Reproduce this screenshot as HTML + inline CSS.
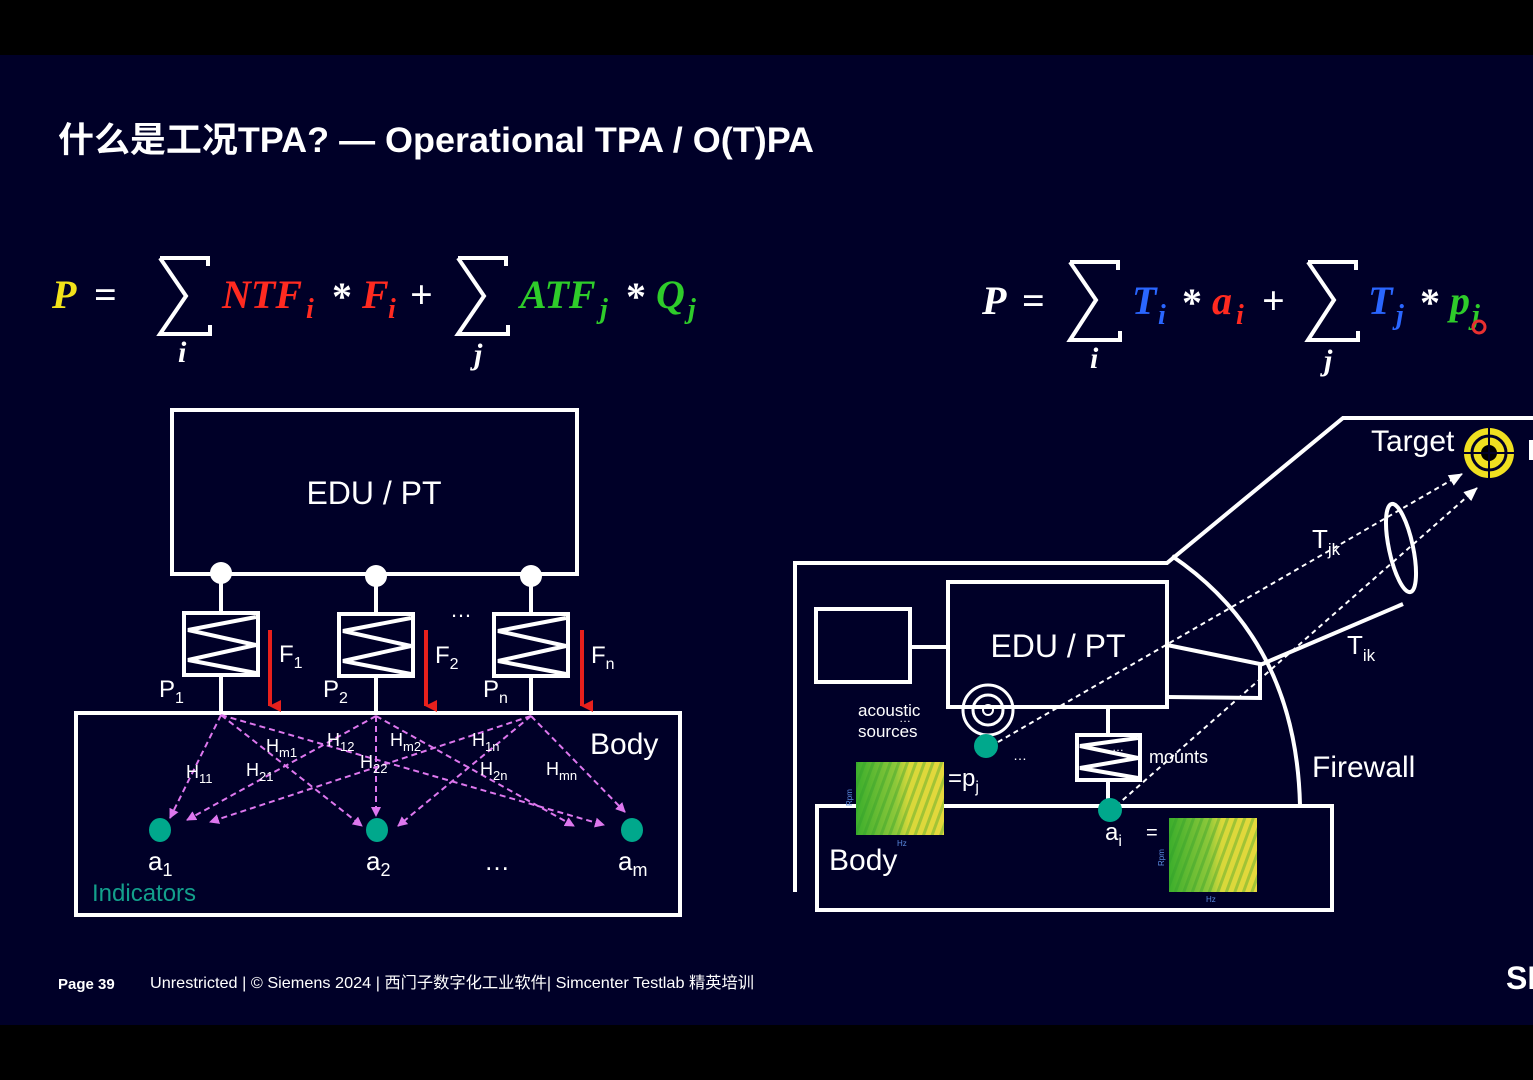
<!DOCTYPE html>
<html><head><meta charset="utf-8"><style>
html,body{margin:0;padding:0;background:#000;}
svg{display:block}
text{font-family:"Liberation Sans","Noto Sans CJK SC",sans-serif;fill:#fff}
g.m text{font-family:"Liberation Serif","DejaVu Serif",serif;font-weight:bold;font-style:italic}
</style></head><body>
<svg width="1533" height="1080" viewBox="0 0 1533 1080" xmlns="http://www.w3.org/2000/svg">
<defs>
<linearGradient id="sp" x1="0" y1="0" x2="1" y2="0">
<stop offset="0" stop-color="#3cae2c"/><stop offset="0.45" stop-color="#8cc83a"/><stop offset="0.6" stop-color="#d8d83a"/><stop offset="1" stop-color="#e6d83c"/></linearGradient>
<pattern id="st" width="8" height="8" patternUnits="userSpaceOnUse" patternTransform="rotate(20)"><rect width="3" height="8" fill="#2a9a2a" opacity="0.35"/></pattern>
<marker id="mg" markerWidth="10" markerHeight="10" refX="9" refY="5" orient="auto" markerUnits="userSpaceOnUse"><path d="M0,0 L10,5 L0,10 z" fill="#dd77ee"/></marker>
<marker id="wh" markerWidth="14" markerHeight="14" refX="13" refY="7" orient="auto" markerUnits="userSpaceOnUse"><path d="M0,1 L14,7 L0,13 z" fill="#fff"/></marker>
<marker id="rd" markerWidth="12" markerHeight="12" refX="6" refY="11" orient="auto" markerUnits="userSpaceOnUse"><path d="M0,0 L12,0 L6,12 z" fill="#e8201c"/></marker>
</defs>
<rect width="1533" height="1080" fill="#000"/>
<rect y="55" width="1533" height="970" fill="#000028"/>

<text x="58" y="152" font-size="35" font-weight="bold" textLength="756" lengthAdjust="spacingAndGlyphs">什么是工况TPA? — Operational TPA / O(T)PA</text>

<!-- left formula -->
<g class="m" font-size="40">
<text x="52" y="308" style="fill:#f2e21a">P</text>
<text x="94" y="308" style="fill:#fff;font-style:normal">=</text>
<text x="178" y="362" font-size="30" style="fill:#fff">i</text>
<text x="222" y="308" style="fill:#ff2a20">NTF</text><text x="306" y="318" font-size="28" style="fill:#ff2a20">i</text>
<text x="332" y="310" style="fill:#fff;font-style:normal">*</text>
<text x="362" y="308" style="fill:#ff2a20">F</text><text x="388" y="318" font-size="28" style="fill:#ff2a20">i</text>
<text x="410" y="308" style="fill:#fff;font-style:normal">+</text>
<text x="474" y="364" font-size="30" style="fill:#fff">j</text>
<text x="520" y="308" style="fill:#2ecc2a">ATF</text><text x="600" y="318" font-size="28" style="fill:#2ecc2a">j</text>
<text x="626" y="310" style="fill:#fff;font-style:normal">*</text>
<text x="656" y="308" style="fill:#2ecc2a">Q</text><text x="688" y="318" font-size="28" style="fill:#2ecc2a">j</text>
</g>
<path d="M160,258 L208,258 L208,266 M160,258 L186,296 L160,334 L210,334 L210,325" stroke="#fff" stroke-width="4" fill="none"/>
<path d="M458,258 L506,258 L506,266 M458,258 L484,296 L458,334 L508,334 L508,325" stroke="#fff" stroke-width="4" fill="none"/>

<!-- right formula -->
<g class="m" font-size="40">
<text x="982" y="314" style="fill:#fff">P</text>
<text x="1022" y="314" style="fill:#fff;font-style:normal">=</text>
<text x="1090" y="368" font-size="30" style="fill:#fff">i</text>
<text x="1132" y="314" style="fill:#2a66ff">T</text><text x="1158" y="324" font-size="28" style="fill:#2a66ff">i</text>
<text x="1182" y="316" style="fill:#fff;font-style:normal">*</text>
<text x="1212" y="314" style="fill:#ff2a20">a</text><text x="1236" y="324" font-size="28" style="fill:#ff2a20">i</text>
<text x="1262" y="314" style="fill:#fff;font-style:normal">+</text>
<text x="1324" y="370" font-size="30" style="fill:#fff">j</text>
<text x="1368" y="314" style="fill:#2a66ff">T</text><text x="1396" y="324" font-size="28" style="fill:#2a66ff">j</text>
<text x="1420" y="316" style="fill:#fff;font-style:normal">*</text>
<text x="1450" y="314" style="fill:#2ecc2a">p</text><text x="1472" y="324" font-size="28" style="fill:#2ecc2a">j</text>
</g>
<path d="M1070,262 L1118,262 L1118,270 M1070,262 L1096,300 L1070,340 L1120,340 L1120,331" stroke="#fff" stroke-width="4" fill="none"/>
<path d="M1308,262 L1356,262 L1356,270 M1308,262 L1334,300 L1308,340 L1358,340 L1358,331" stroke="#fff" stroke-width="4" fill="none"/>
<circle cx="1479" cy="327" r="6" fill="none" stroke="#e83030" stroke-width="3"/>

<!-- LEFT DIAGRAM -->
<g stroke="#fff" stroke-width="4" fill="none">
<rect x="172" y="410" width="405" height="164"/>
<rect x="76" y="713" width="604" height="202"/>
<line x1="221" y1="574" x2="221" y2="613"/><line x1="221" y1="675" x2="221" y2="713"/>
<line x1="376" y1="576" x2="376" y2="614"/><line x1="376" y1="676" x2="376" y2="713"/>
<line x1="531" y1="576" x2="531" y2="614"/><line x1="531" y1="676" x2="531" y2="713"/>
<rect x="184" y="613" width="74" height="62"/>
<rect x="339" y="614" width="74" height="62"/>
<rect x="494" y="614" width="74" height="62"/>
<polyline points="256,617 188,630 256,645 188,660 256,673"/>
<polyline points="411,618 343,631 411,646 343,661 411,674"/>
<polyline points="566,618 498,631 566,646 498,661 566,674"/>
</g>
<text x="374" y="504" font-size="32" text-anchor="middle">EDU / PT</text>
<g fill="#fff"><circle cx="221" cy="573" r="11"/><circle cx="376" cy="576" r="11"/><circle cx="531" cy="576" r="11"/></g>
<text x="450" y="617" font-size="22">…</text>
<g stroke="#e8201c" stroke-width="4" marker-end="url(#rd)">
<line x1="270" y1="630" x2="270" y2="706"/><line x1="426" y1="630" x2="426" y2="706"/><line x1="582" y1="630" x2="582" y2="706"/>
</g>
<g font-size="24">
<text x="279" y="662">F<tspan font-size="16" dy="6">1</tspan></text>
<text x="435" y="663">F<tspan font-size="16" dy="6">2</tspan></text>
<text x="591" y="663">F<tspan font-size="16" dy="6">n</tspan></text>
<text x="159" y="697">P<tspan font-size="16" dy="6">1</tspan></text>
<text x="323" y="697">P<tspan font-size="16" dy="6">2</tspan></text>
<text x="483" y="697">P<tspan font-size="16" dy="6">n</tspan></text>
</g>
<text x="590" y="754" font-size="30">Body</text>
<g stroke="#dd77ee" stroke-width="2" stroke-dasharray="6,4" fill="none" marker-end="url(#mg)">
<line x1="221" y1="715" x2="170" y2="818"/>
<line x1="221" y1="715" x2="362" y2="826"/>
<line x1="221" y1="715" x2="604" y2="825"/>
<line x1="376" y1="716" x2="187" y2="820"/>
<line x1="376" y1="716" x2="376" y2="816"/>
<line x1="376" y1="716" x2="574" y2="826"/>
<line x1="531" y1="716" x2="210" y2="822"/>
<line x1="531" y1="716" x2="398" y2="826"/>
<line x1="531" y1="716" x2="625" y2="812"/>
</g>
<g font-size="18">
<text x="186" y="778">H<tspan font-size="13" dy="5">11</tspan></text>
<text x="246" y="776">H<tspan font-size="13" dy="5">21</tspan></text>
<text x="266" y="752">H<tspan font-size="13" dy="5">m1</tspan></text>
<text x="327" y="746">H<tspan font-size="13" dy="5">12</tspan></text>
<text x="360" y="768">H<tspan font-size="13" dy="5">22</tspan></text>
<text x="390" y="746">H<tspan font-size="13" dy="5">m2</tspan></text>
<text x="472" y="746">H<tspan font-size="13" dy="5">1n</tspan></text>
<text x="480" y="775">H<tspan font-size="13" dy="5">2n</tspan></text>
<text x="546" y="775">H<tspan font-size="13" dy="5">mn</tspan></text>
</g>
<g fill="#00a88c"><ellipse cx="160" cy="830" rx="11" ry="12"/><ellipse cx="377" cy="830" rx="11" ry="12"/><ellipse cx="632" cy="830" rx="11" ry="12"/></g>
<g font-size="26">
<text x="148" y="870">a<tspan font-size="18" dy="6">1</tspan></text>
<text x="366" y="870">a<tspan font-size="18" dy="6">2</tspan></text>
<text x="618" y="870">a<tspan font-size="18" dy="6">m</tspan></text>
<text x="484" y="870">…</text>
</g>
<text x="92" y="901" font-size="24" style="fill:#13a08c">Indicators</text>

<!-- RIGHT DIAGRAM -->
<g stroke="#fff" stroke-width="4" fill="none">
<polyline points="795,892 795,563 1167,563 1343,418 1533,418"/>
<path d="M1172,556 Q1296,640 1300,805"/>
<rect x="816" y="609" width="94" height="73"/>
<line x1="910" y1="647" x2="948" y2="647"/>
<rect x="948" y="582" width="219" height="125"/>
<polyline points="1167,645 1260,664 1260,698 1167,697"/>
<line x1="1260" y1="665" x2="1403" y2="604"/>
<ellipse cx="1401" cy="548" rx="12" ry="45" transform="rotate(-12 1401 548)"/>
<rect x="817" y="806" width="515" height="104"/>
<line x1="1108" y1="707" x2="1108" y2="735"/><line x1="1108" y1="780" x2="1108" y2="806"/>
<rect x="1077" y="735" width="63" height="45"/>
<polyline points="1138,738 1080,746 1138,758 1080,768 1138,778"/>
<circle cx="988" cy="710" r="25" stroke-width="3"/><circle cx="988" cy="710" r="15" stroke-width="3"/><circle cx="988" cy="710" r="5" stroke-width="2"/>
</g>
<text x="1058" y="657" font-size="32" text-anchor="middle">EDU / PT</text>
<text x="1371" y="451" font-size="30">Target</text>
<circle cx="1489" cy="453" r="25" fill="#f0e020"/>
<circle cx="1489" cy="453" r="17" fill="none" stroke="#000028" stroke-width="3"/>
<circle cx="1489" cy="453" r="8" fill="#000"/>
<line x1="1462" y1="453" x2="1516" y2="453" stroke="#000028" stroke-width="2"/>
<line x1="1489" y1="426" x2="1489" y2="480" stroke="#000028" stroke-width="2"/>
<rect x="1529" y="440" width="4" height="20" fill="#fff"/>
<g stroke="#fff" stroke-width="2" stroke-dasharray="5,4" fill="none" marker-end="url(#wh)">
<line x1="998" y1="742" x2="1462" y2="474"/>
<line x1="1116" y1="806" x2="1477" y2="488"/>
</g>
<text x="1312" y="548" font-size="26">T<tspan font-size="17" dy="7">jk</tspan></text>
<text x="1347" y="654" font-size="26">T<tspan font-size="17" dy="7">ik</tspan></text>
<text x="1312" y="777" font-size="30">Firewall</text>
<text x="858" y="716" font-size="17">acoustic</text>
<text x="858" y="737" font-size="17">sources</text>
<text x="899" y="722" font-size="12">…</text>
<text x="1013" y="760" font-size="14">…</text>
<text x="1149" y="763" font-size="18">mounts</text>
<text x="1112" y="751" font-size="12">…</text>
<g fill="#00a88c"><circle cx="986" cy="746" r="12"/><circle cx="1110" cy="810" r="12"/></g>
<rect x="856" y="762" width="88" height="73" fill="url(#sp)"/><rect x="856" y="762" width="88" height="73" fill="url(#st)"/>
<rect x="1169" y="818" width="88" height="74" fill="url(#sp)"/><rect x="1169" y="818" width="88" height="74" fill="url(#st)"/>
<text x="897" y="846" font-size="8" style="fill:#5a8ae0">Hz</text>
<text x="1206" y="902" font-size="8" style="fill:#5a8ae0">Hz</text>
<text x="852" y="806" font-size="8" style="fill:#5a8ae0" transform="rotate(-90 852 806)">Rpm</text>
<text x="1164" y="866" font-size="8" style="fill:#5a8ae0" transform="rotate(-90 1164 866)">Rpm</text>
<text x="948" y="786" font-size="24">=p<tspan font-size="16" dy="6">j</tspan></text>
<text x="1105" y="840" font-size="24">a<tspan font-size="16" dy="6">i</tspan></text>
<text x="1146" y="839" font-size="20">=</text>
<text x="829" y="870" font-size="30">Body</text>

<!-- footer -->
<text x="58" y="989" font-size="15" font-weight="bold">Page 39</text>
<text x="150" y="988" font-size="16" textLength="604" lengthAdjust="spacingAndGlyphs">Unrestricted | © Siemens 2024 | 西门子数字化工业软件| Simcenter Testlab 精英培训</text>
<text x="1506" y="989" font-size="32" font-weight="bold">SI</text>
</svg>
</body></html>
